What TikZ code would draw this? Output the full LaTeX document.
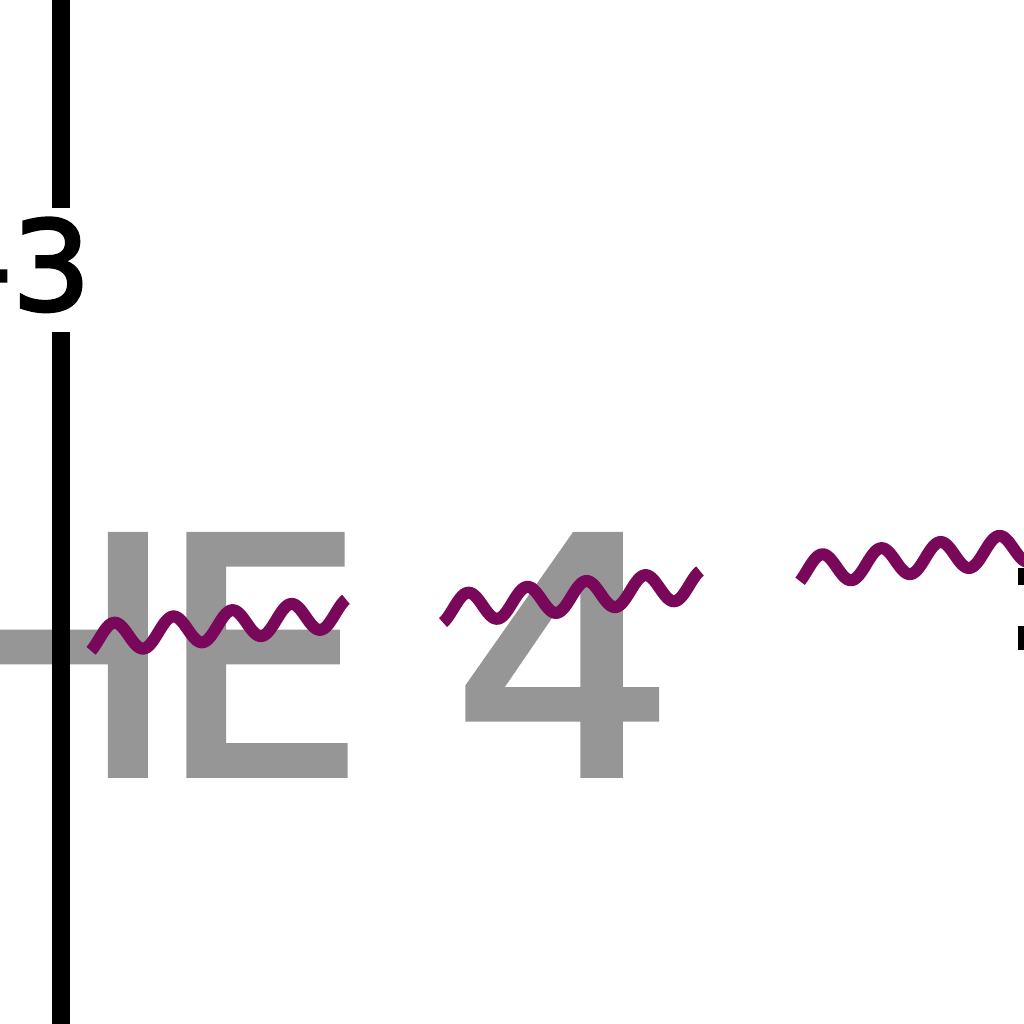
\documentclass[tikz,border=0pt]{standalone}
\usepackage{fontspec}
\usepackage{graphicx}
\newfontfamily\bigfont[FakeBold=2.3]{DejaVu Sans}
\newfontfamily\lblfont[FakeBold=2.6]{DejaVu Sans}
\definecolor{wavec}{RGB}{122,8,90}
\definecolor{textgray}{RGB}{150,150,150}
\begin{document}
\begin{tikzpicture}[x=1pt,y=-1pt,
  wave/.style={draw=wavec, line width=12pt},
  axis/.style={draw=black, line width=18pt},
  bigtext/.style={anchor=base west, inner sep=0pt, text=textgray, font=\bigfont\fontsize{327}{327}\selectfont},
  ticklbl/.style={anchor=base east, inner sep=0pt, text=black, font=\lblfont\fontsize{124}{124}\selectfont}]
\useasboundingbox (0,0) rectangle (1024,1024);
\clip (0,0) rectangle (1024,1024);
% large gray text
\node[bigtext] (he) at (-70,774) {H\kern-18pt E};
\node[bigtext] (four) at (452,774) {\scalebox{1.07}[1]{4}};
% axis
\coordinate (a1) at (61,-5);
\coordinate (a2) at (61,208);
\coordinate (a3) at (61,332);
\coordinate (a4) at (61,1030);
\draw[axis] (a1) -- (a2);
\draw[axis] (a3) -- (a4);
\node[ticklbl] (lbl) at (91,310) {-3};
% right edge marks
\coordinate (r1) at (1027,568);
\coordinate (r2) at (1027,585);
\coordinate (r3) at (1027,626);
\coordinate (r4) at (1027,650);
\draw[axis] (r1) -- (r2);
\draw[axis] (r3) -- (r4);
% waves
\draw[wave] plot[domain=91:346, samples=160, smooth] ({\x},{635.5-0.106*(\x-130)-14.5*cos(6.1017*(\x-114))});
\draw[wave] plot[domain=443:700, samples=160, smooth] ({\x},{605.5-0.099*(\x-485)-14.5*cos(6.1017*(\x-114))});
\draw[wave] plot[domain=800:1035, samples=160, smooth] ({\x},{558.5-0.104*(\x-921)-14.5*cos(6.1017*(\x-114))});
\end{tikzpicture}
\end{document}
